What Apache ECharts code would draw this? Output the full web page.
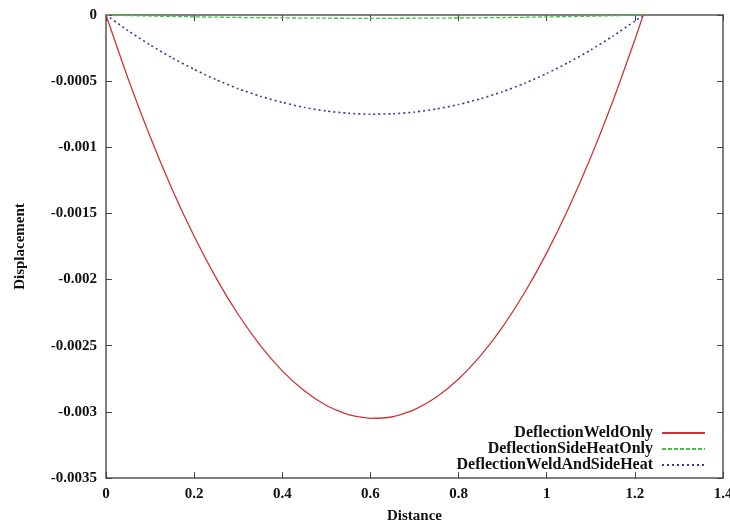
<!DOCTYPE html>
<html>
<head>
<meta charset="utf-8">
<script src="https://cdn.jsdelivr.net/npm/echarts@6/dist/echarts.min.js"></script>
<style>
html,body{margin:0;padding:0;background:#fff;}
#chart{width:730px;height:520px;}
</style>
</head>
<body>
<div id="chart"></div>
<script>
const distance = [0, 0.05, 0.1, 0.15, 0.2, 0.25, 0.3, 0.35, 0.4, 0.45, 0.5, 0.55, 0.6,
  0.65, 0.7, 0.75, 0.8, 0.85, 0.9, 0.95, 1.0, 1.05, 1.1, 1.15, 1.2, 1.219];

const deflectionWeldOnly = [0, -0.000480, -0.000919, -0.001317, -0.001673, -0.001989,
  -0.002264, -0.002497, -0.002690, -0.002841, -0.002952, -0.003021, -0.003049,
  -0.003037, -0.002983, -0.002888, -0.002752, -0.002575, -0.002357, -0.002098,
  -0.001798, -0.001457, -0.001075, -0.000652, -0.000187, 0];

const deflectionSideHeatOnly = [0, -0.0000040, -0.0000075, -0.0000110, -0.0000137,
  -0.0000163, -0.0000186, -0.0000205, -0.0000220, -0.0000233, -0.0000242, -0.0000248,
  -0.0000250, -0.0000249, -0.0000244, -0.0000237, -0.0000226, -0.0000211, -0.0000193,
  -0.0000172, -0.0000147, -0.0000119, -0.0000088, -0.0000053, -0.0000015, 0];

const deflectionWeldAndSideHeat = [0, -0.000118, -0.000226, -0.000324, -0.000411,
  -0.000489, -0.000557, -0.000614, -0.000661, -0.000699, -0.000726, -0.000743,
  -0.000750, -0.000747, -0.000734, -0.000710, -0.000677, -0.000633, -0.000580,
  -0.000516, -0.000442, -0.000358, -0.000264, -0.000160, -0.000046, 0];

const seriesNames = ['DeflectionWeldOnly', 'DeflectionSideHeatOnly', 'DeflectionWeldAndSideHeat'];

const xTicks = {min: 0, max: 1.4, interval: 0.2};
const yTicks = {min: -0.0035, max: 0, interval: 0.0005};

function pairs(xs, ys) { return xs.map((x, i) => [x, ys[i]]); }

const FONT = 'Liberation Serif';
const axisLineStyle = {color: '#555', width: 1.5};
const tick = {show: true, inside: true, length: 6, lineStyle: {color: '#444', width: 1}};

const chart = echarts.init(document.getElementById('chart'), null, {renderer: 'canvas'});
chart.setOption({
  backgroundColor: '#fff',
  animation: false,
  grid: {left: 106, top: 15, right: 7, bottom: 42, containLabel: false, outerBoundsMode: 'none'},
  legend: {
    orient: 'vertical',
    right: 19,
    bottom: 42,
    align: 'right',
    itemWidth: 43,
    itemHeight: 14,
    itemGap: 0,
    data: seriesNames,
    itemStyle: {opacity: 0},
    textStyle: {fontFamily: FONT, fontWeight: 'bold', fontSize: 16, lineHeight: 15, color: '#111', padding: [0, 4, 0, 0]}
  },
  xAxis: [{
    type: 'value', min: xTicks.min, max: xTicks.max, interval: xTicks.interval,
    position: 'bottom',
    name: 'Distance', nameLocation: 'middle', nameGap: 31,
    nameTextStyle: {fontFamily: FONT, fontWeight: 'bold', fontSize: 15, color: '#111'},
    axisLine: {show: true, onZero: false, lineStyle: axisLineStyle},
    axisTick: tick,
    axisLabel: {fontFamily: FONT, fontWeight: 'bold', fontSize: 15, color: '#111', margin: 9},
    splitLine: {show: false}
  }, {
    type: 'value', min: xTicks.min, max: xTicks.max, interval: xTicks.interval,
    position: 'top',
    axisLine: {show: true, onZero: false, lineStyle: axisLineStyle},
    axisTick: tick,
    axisLabel: {show: false},
    splitLine: {show: false}
  }],
  yAxis: [{
    type: 'value', min: yTicks.min, max: yTicks.max, interval: yTicks.interval,
    position: 'left',
    name: 'Displacement', nameLocation: 'middle', nameGap: 78, nameRotate: 90,
    nameTextStyle: {fontFamily: FONT, fontWeight: 'bold', fontSize: 15, color: '#111'},
    axisLine: {show: true, onZero: false, lineStyle: axisLineStyle},
    axisTick: tick,
    axisLabel: {fontFamily: FONT, fontWeight: 'bold', fontSize: 15, color: '#111', margin: 9},
    splitLine: {show: false}
  }, {
    type: 'value', min: yTicks.min, max: yTicks.max, interval: yTicks.interval,
    position: 'right',
    axisLine: {show: true, onZero: false, lineStyle: axisLineStyle},
    axisTick: tick,
    axisLabel: {show: false},
    splitLine: {show: false}
  }],
  series: [{
    name: seriesNames[0], type: 'line', symbol: 'none', smooth: 0.2,
    data: pairs(distance, deflectionWeldOnly),
    itemStyle: {color: '#d03535'},
    lineStyle: {color: '#d03535', width: 1.3, type: 'solid'},
    z: 3
  }, {
    name: seriesNames[1], type: 'line', symbol: 'none', smooth: 0.2,
    data: pairs(distance, deflectionSideHeatOnly),
    itemStyle: {color: '#44c444'},
    lineStyle: {color: '#44c444', width: 1.3, type: [4, 2]},
    z: 4
  }, {
    name: seriesNames[2], type: 'line', symbol: 'none', smooth: 0.2,
    data: pairs(distance, deflectionWeldAndSideHeat),
    itemStyle: {color: '#3a3a9c'},
    lineStyle: {color: '#3a3a9c', width: 1.6, type: [2, 3]},
    z: 3
  }]
});
</script>
</body>
</html>
